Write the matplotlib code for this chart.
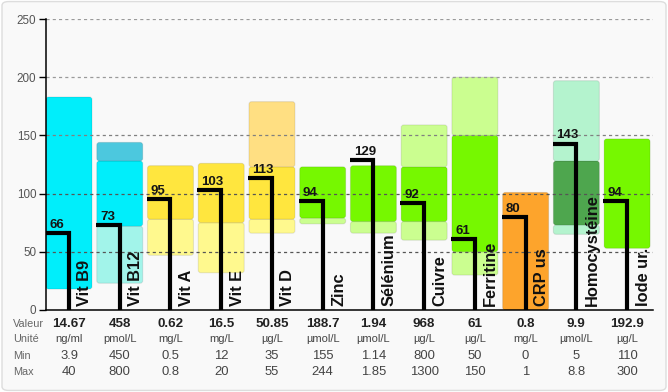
import matplotlib.pyplot as plt
from matplotlib.patches import FancyBboxPatch

plt.rcParams['font.family'] = ['Liberation Sans', 'DejaVu Sans']

categories = ["Vit B9", "Vit B12", "Vit A", "Vit E", "Vit D", "Zinc", "Sélénium",
              "Cuivre", "Ferritine", "CRP us", "Homocystéine", "Iode ur."]
scores = [66, 73, 95, 103, 113, 94, 129, 92, 61, 80, 143, 94]
valeurs = ["14.67", "458", "0.62", "16.5", "50.85", "188.7", "1.94", "968", "61", "0.8", "9.9", "192.9"]
unites = ["ng/ml", "pmol/L", "mg/L", "mg/L", "µg/L", "µmol/L", "µmol/L", "µg/L", "µg/L", "mg/L", "µmol/L", "µg/L"]
mins = ["3.9", "450", "0.5", "12", "35", "155", "1.14", "800", "50", "0", "5", "110"]
maxs = ["40", "800", "0.8", "20", "55", "244", "1.85", "1300", "150", "1", "8.8", "300"]

# zone boundaries per analyte, and the colour of each zone
bounds = [
    [18, 183],
    [23, 72, 128, 144],
    [47, 78, 124],
    [32, 75, 126],
    [66, 78, 123, 179],
    [74, 79, 123],
    [66, 76, 124],
    [60, 76, 123, 159],
    [30, 50, 150, 200],
    [0, 101],
    [65, 73, 128, 197],
    [53, 147],
]
cyan, lcyan, dcyan = '#00EEFB', '#A2F4EA', '#4CC8DE'
yel, lyel, lora = '#FFE63E', '#FFF98E', '#FFDF82'
grn, lgrn = '#76F800', '#CBFE90'
ora, mint, dgrn = '#FDA42C', '#B4F3CE', '#4EA64E'
zone_colors = [
    [cyan],
    [lcyan, cyan, dcyan],
    [lyel, yel],
    [lyel, yel],
    [lyel, yel, lora],
    [lgrn, grn],
    [lgrn, grn],
    [lgrn, grn, lgrn],
    [lgrn, grn, lgrn],
    [ora],
    [mint, dgrn, mint],
    [grn],
]

fig = plt.figure(figsize=(6.68, 3.92), dpi=100, facecolor='white')
bg = FancyBboxPatch((0.003, 0.004), 0.994, 0.992, boxstyle="round,pad=0,rounding_size=0.01",
                    transform=fig.transFigure, facecolor='#F9F9F9', edgecolor='#DDDDDD',
                    lw=1, zorder=-10)
fig.patches.append(bg)
ax = fig.add_axes([0.0689, 0.2092, 0.9086, 0.7423])
ax.set_facecolor('none')
ax.set_xlim(-0.453, 11.51)
ax.set_ylim(0, 250)

w = 0.906
# px per data unit, to keep the corner rounding circular
bb = ax.get_window_extent()
aspect = (bb.width / 11.963) / (bb.height / 250)
r = 2.6 / (bb.width / 11.963)
for i in range(len(categories)):
    b = bounds[i]
    for k in range(len(b) - 1):
        bars = ax.bar(i, b[k + 1] - b[k], bottom=b[k], width=w, color=zone_colors[i][k])
        rect = bars[0]
        x0, y0 = rect.get_x(), rect.get_y()
        rw, rh = rect.get_width(), rect.get_height()
        rect.remove()
        ax.add_patch(FancyBboxPatch((x0, y0), rw, rh, boxstyle=f"round,pad=0,rounding_size={r}",
                                    mutation_aspect=aspect, facecolor=zone_colors[i][k],
                                    edgecolor=(0, 0, 0, 0.09), linewidth=0.8, zorder=1))

for i, v in enumerate(scores):
    ax.plot([i - 0.47, i, i], [v, v, 0], color='black', lw=3, solid_joinstyle='miter',
            solid_capstyle='butt', zorder=3)
    ax.annotate(str(v), (i - 0.39, v), xytext=(0, 1.5), textcoords='offset points',
                ha='left', va='bottom', fontsize=9.5, fontweight='bold', color='#151515', zorder=4)
    ax.text(i + 0.315, 3.5, categories[i], rotation=90, ha='center', va='bottom',
            fontsize=11.8, fontweight='bold', color='#111111', zorder=4)

yt = [0, 50, 100, 150, 200, 250]
grid_cols = ['#555555', '#555555', '#808080', '#9A9A9A', '#9A9A9A']
for t, c in zip(yt[1:], grid_cols):
    ax.axhline(t, color=c, lw=0.9, ls=(0, (2.5, 2.5)), zorder=1.5)

ax.set_xlim(-0.453, 11.51)
ax.set_ylim(0, 250)
ax.set_yticks(yt)
ax.set_xticks([])
ax.tick_params(axis='y', length=5, width=1, color='black', labelsize=8.4, labelcolor='#555555', pad=2)
for s in ['top', 'right']:
    ax.spines[s].set_visible(False)
ax.spines['left'].set_linewidth(1.1)
ax.spines['bottom'].set_linewidth(1.1)

# table below the chart
tr = ax.get_xaxis_transform()
rows = [("Valeur", valeurs, 9.6, 'bold', '#222222', -0.048),
        ("Unité", unites, 8.0, 'normal', '#444444', -0.099),
        ("Min", mins, 9.4, 'normal', '#444444', -0.157),
        ("Max", maxs, 9.4, 'normal', '#444444', -0.212)]
for name, vals, fs, fw, col, yy in rows:
    fig.text(13 / 668, ax.get_position().y0 + yy * ax.get_position().height, name,
             ha='left', va='center', fontsize=7.8, color='#666666')
    for i, s in enumerate(vals):
        ax.text(i, yy, s, transform=tr, ha='center', va='center', fontsize=fs,
                fontweight=fw, color=col, clip_on=False)

fig.savefig("out.png", dpi=100, facecolor=fig.get_facecolor())
